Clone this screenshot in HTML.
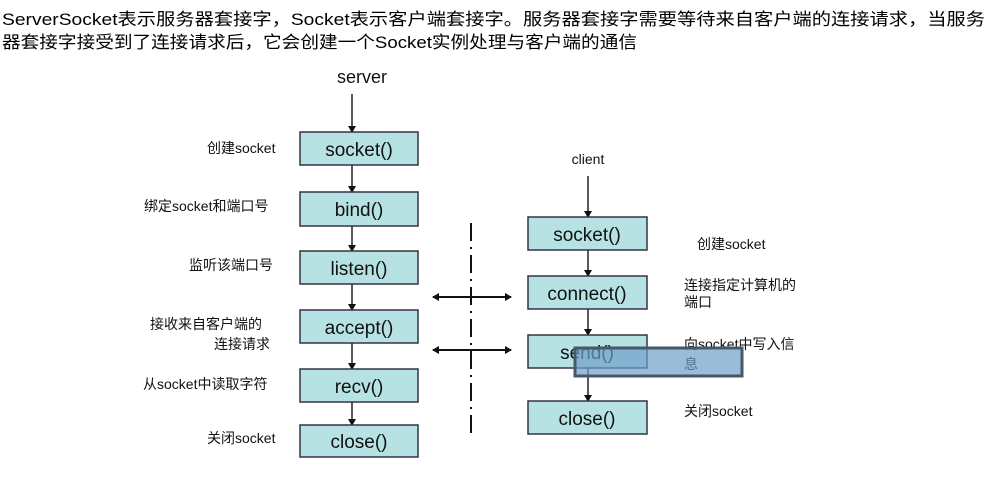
<!DOCTYPE html>
<html><head><meta charset="utf-8"><style>
body{margin:0;background:#fff;}
svg{display:block;}
.h{font-family:"Liberation Sans","Noto Sans CJK SC",sans-serif;font-size:17px;fill:#000;}
.b{font-family:"Liberation Sans",sans-serif;font-size:19px;fill:#111;text-anchor:middle;}
.l{font-family:"Liberation Sans","Noto Sans CJK SC",sans-serif;font-size:14px;fill:#111;}
</style></head><body>
<svg width="990" height="478" xmlns="http://www.w3.org/2000/svg">
<defs><marker id="a" markerWidth="8" markerHeight="8" refX="6" refY="4" orient="auto" markerUnits="userSpaceOnUse"><path d="M0,0 L7,4 L0,8 z" fill="#111"/></marker></defs>
<text class="h" x="2" y="25" textLength="983" lengthAdjust="spacingAndGlyphs">ServerSocket表示服务器套接字，Socket表示客户端套接字。服务器套接字需要等待来自客户端的连接请求，当服务</text>
<text class="h" x="2" y="48" textLength="635" lengthAdjust="spacingAndGlyphs">器套接字接受到了连接请求后，它会创建一个Socket实例处理与客户端的通信</text>

<text x="362" y="83" style="font-family:'Liberation Sans',sans-serif;font-size:18px;text-anchor:middle;fill:#111">server</text>
<text x="588" y="164" style="font-family:'Liberation Sans',sans-serif;font-size:14px;text-anchor:middle;fill:#111">client</text>

<g stroke="#222" stroke-width="1.5" marker-end="url(#a)">
<line x1="352" y1="94" x2="352" y2="132"/>
<line x1="352" y1="165" x2="352" y2="192"/>
<line x1="352" y1="226" x2="352" y2="251"/>
<line x1="352" y1="284" x2="352" y2="310"/>
<line x1="352" y1="343" x2="352" y2="369"/>
<line x1="352" y1="402" x2="352" y2="425"/>
<line x1="588" y1="176" x2="588" y2="217"/>
<line x1="588" y1="250" x2="588" y2="276"/>
<line x1="588" y1="309" x2="588" y2="335"/>
<line x1="588" y1="368" x2="588" y2="401"/>
</g>

<g fill="#b6e2e3" stroke="#334" stroke-width="1.5">
<rect x="300" y="132" width="118" height="33"/>
<rect x="300" y="192" width="118" height="34"/>
<rect x="300" y="251" width="118" height="33"/>
<rect x="300" y="310" width="118" height="33"/>
<rect x="300" y="369" width="118" height="33"/>
<rect x="300" y="425" width="118" height="32"/>
<rect x="528" y="217" width="119" height="33"/>
<rect x="528" y="276" width="119" height="33"/>
<rect x="528" y="335" width="119" height="33"/>
<rect x="528" y="401" width="119" height="33"/>
</g>
<text class="b" x="359" y="156">socket()</text>
<text class="b" x="359" y="216">bind()</text>
<text class="b" x="359" y="275">listen()</text>
<text class="b" x="359" y="334">accept()</text>
<text class="b" x="359" y="393">recv()</text>
<text class="b" x="359" y="448">close()</text>
<text class="b" x="587" y="241">socket()</text>
<text class="b" x="587" y="300">connect()</text>
<text class="b" x="587" y="359">send()</text>
<text class="b" x="587" y="425">close()</text>

<g class="l">
<text x="207" y="153">创建socket</text>
<text x="144" y="211">绑定socket和端口号</text>
<text x="189" y="270">监听该端口号</text>
<text x="150" y="329">接收来自客户端的</text>
<text x="214" y="349">连接请求</text>
<text x="143" y="389">从socket中读取字符</text>
<text x="207" y="443">关闭socket</text>
<text x="697" y="249">创建socket</text>
<text x="684" y="290">连接指定计算机的</text>
<text x="684" y="307">端口</text>
<text x="684" y="349">向socket中写入信</text>
<text x="684" y="369">息</text>
<text x="684" y="416">关闭socket</text>
</g>

<line x1="471" y1="223" x2="471" y2="437" stroke="#111" stroke-width="2" stroke-dasharray="18,6,2,6"/>
<g stroke="#111" stroke-width="2" marker-end="url(#a)">
<line x1="472" y1="297" x2="511" y2="297"/>
<line x1="472" y1="297" x2="433" y2="297"/>
<line x1="472" y1="350" x2="511" y2="350"/>
<line x1="472" y1="350" x2="433" y2="350"/>
</g>

<rect x="575" y="348" width="167" height="28" fill="rgba(110,160,200,0.7)" stroke="#46596a" stroke-width="3"/>
</svg>
</body></html>
